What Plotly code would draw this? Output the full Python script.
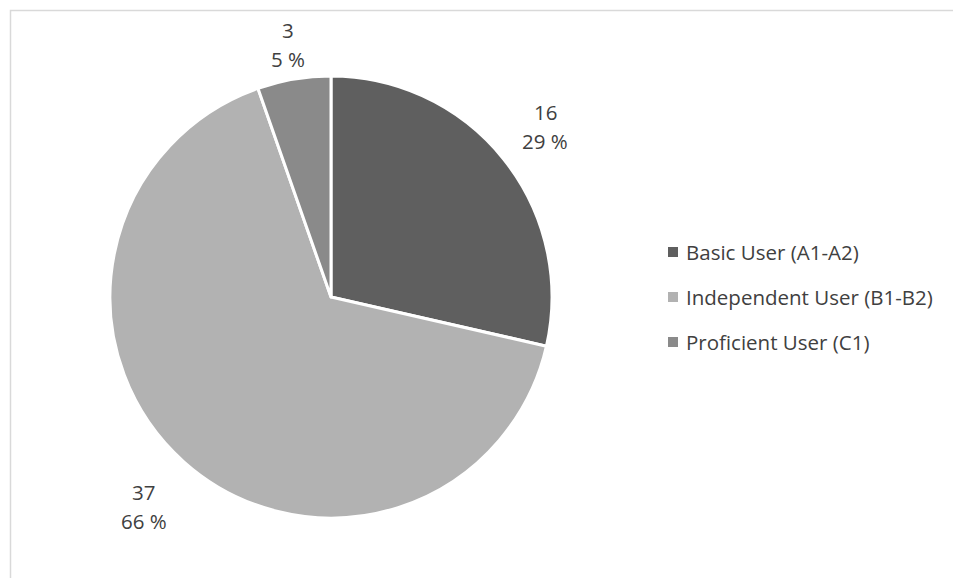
import math
import plotly.graph_objects as go

# Language proficiency levels and respondent counts
categories = ["Basic User (A1-A2)", "Independent User (B1-B2)", "Proficient User (C1)"]
counts = [16, 37, 3]
colors = ["#5f5f5f", "#b2b2b2", "#8a8a8a"]

# Styling / layout
W, H = 953, 578
FONT = "'Open Sans', sans-serif"
FONT_SIZE = 20.5
TEXT_COLOR = "#404040"
CX, CY, R = 331, 297, 221          # pie centre and radius in pixels (from top-left)
label_dist = [1.24, 1.27, 1.16]    # radial distance of each data label, in radii
legend_x, legend_y0, legend_dy = 673, 252, 45

def px(x):
    return x / W

def py(y):
    return 1 - y / H

fig = go.Figure(
    go.Pie(
        labels=categories,
        values=counts,
        sort=False,
        direction="clockwise",
        rotation=0,
        marker=dict(colors=colors, line=dict(color="white", width=3)),
        textinfo="none",
        hoverinfo="label+value+percent",
        showlegend=False,
        domain=dict(x=[px(CX - R), px(CX + R)], y=[py(CY + R), py(CY - R)]),
    )
)

annotations = []
total = sum(counts)
cum = 0
for i, (cat, v) in enumerate(zip(categories, counts)):
    mid = (cum + v / 2) / total * 2 * math.pi
    cum += v
    d = label_dist[i] * R
    lx = CX + d * math.sin(mid)
    ly = CY - d * math.cos(mid)
    pct = round(v / total * 100)
    for txt, shift in ((str(v), 14), (f"{pct} %", -15)):
        annotations.append(dict(
            x=px(lx), y=py(ly), xref="paper", yref="paper",
            text=txt, showarrow=False, yshift=shift,
            xanchor="center", yanchor="middle",
            font=dict(family=FONT, size=FONT_SIZE, color=TEXT_COLOR),
        ))

# Legend drawn as squares + text entries
shapes = []
for i, (cat, col) in enumerate(zip(categories, colors)):
    yy = legend_y0 + i * legend_dy
    shapes.append(dict(
        type="rect", xref="paper", yref="paper",
        x0=px(legend_x - 5), x1=px(legend_x + 5),
        y0=py(yy + 5), y1=py(yy - 5),
        fillcolor=col, line=dict(width=0),
    ))
    annotations.append(dict(
        x=px(legend_x + 11), y=py(yy), xref="paper", yref="paper",
        text=cat, showarrow=False, xanchor="left", yanchor="middle",
        font=dict(family=FONT, size=FONT_SIZE, color=TEXT_COLOR),
    ))

# Chart-area frame
shapes.append(dict(
    type="rect", xref="paper", yref="paper",
    x0=px(10.5), y0=-0.05, x1=1.05, y1=py(10.5),
    line=dict(color="#d9d9d9", width=1.5), fillcolor="rgba(0,0,0,0)",
))

fig.update_layout(
    width=W, height=H,
    margin=dict(l=0, r=0, t=0, b=0),
    paper_bgcolor="white", plot_bgcolor="white",
    annotations=annotations, shapes=shapes,
)

fig.write_html("out.html")
